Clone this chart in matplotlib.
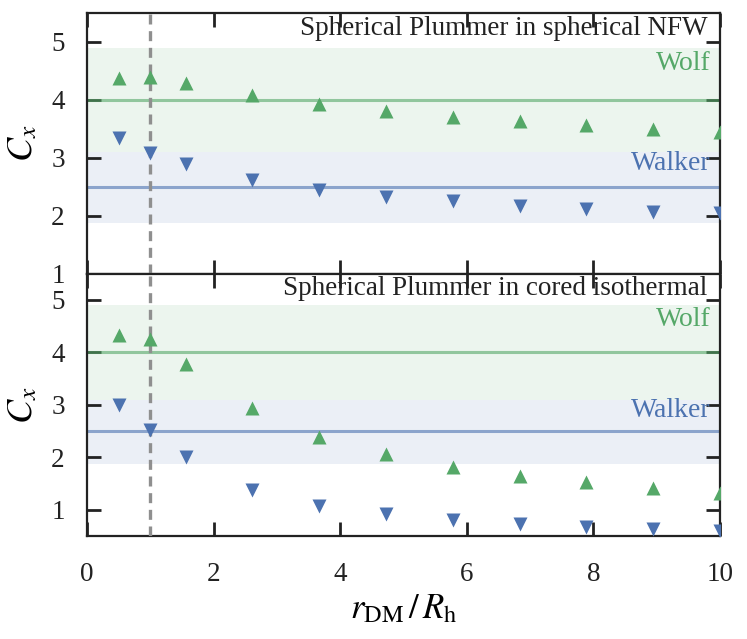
import matplotlib
matplotlib.use('Agg')
import matplotlib.pyplot as plt

plt.rcParams['font.family'] = ['Liberation Serif', 'DejaVu Serif']
plt.rcParams['mathtext.fontset'] = 'stix'

# data
r_ratio = [0.5, 1.0, 1.556, 2.611, 3.667, 4.722, 5.778, 6.833, 7.889, 8.944, 10.0]
nfw_wolf = [4.38, 4.39, 4.30, 4.09, 3.93, 3.81, 3.71, 3.63, 3.56, 3.50, 3.44]
nfw_walker = [3.35, 3.09, 2.89, 2.62, 2.45, 2.33, 2.25, 2.17, 2.12, 2.07, 2.04]
iso_wolf = [4.33, 4.25, 3.78, 2.94, 2.39, 2.06, 1.82, 1.65, 1.52, 1.42, 1.32]
iso_walker = [3.00, 2.52, 2.00, 1.38, 1.08, 0.91, 0.80, 0.73, 0.68, 0.63, 0.60]

wolf_c, wolf_lo, wolf_hi = 4.0, 3.1, 4.9
walker_c, walker_lo, walker_hi = 2.5, 1.87, 3.1

titles = ['Spherical Plummer in spherical NFW', 'Spherical Plummer in cored isothermal']
ylims = [(1, 5.5), (0.5, 5.5)]
yticks = [[1, 2, 3, 4, 5], [1, 2, 3, 4, 5]]

GREEN = '#55a868'
BLUE = '#4c72b0'

fig = plt.figure(figsize=(7.47, 6.39), dpi=100)
gs = fig.add_gridspec(2, 1, left=0.1165, right=0.964, top=0.9797, bottom=0.1612,
                      hspace=0, height_ratios=[4.5 * 58, 5 * 52.5])
axes = [fig.add_subplot(gs[0]), fig.add_subplot(gs[1])]

panels = [(nfw_wolf, nfw_walker), (iso_wolf, iso_walker)]
for i, (ax, (wolf, walker)) in enumerate(zip(axes, panels)):
    ax.axhspan(wolf_lo, wolf_hi, color=GREEN, alpha=0.11, lw=0)
    ax.axhspan(walker_lo, walker_hi, color=BLUE, alpha=0.11, lw=0)
    ax.axhline(wolf_c, color=GREEN, alpha=0.6, lw=2.2)
    ax.axhline(walker_c, color=BLUE, alpha=0.6, lw=2.2)
    ax.axvline(1.0, color='#8f8f8f', ls=(0, (3, 2)), lw=2.4, zorder=4)
    ax.plot(r_ratio, wolf, '^', color=GREEN, ms=10, mec='none', zorder=5)
    ax.plot(r_ratio, walker, 'v', color=BLUE, ms=10, mec='none', zorder=5)

    ax.set_xlim(0, 10)
    ax.set_ylim(*ylims[i])
    ax.set_yticks(yticks[i])
    ax.set_xticks([0, 2, 4, 6, 8, 10])
    ax.tick_params(direction='in', length=10, width=2, top=True, right=True,
                   labelsize=19.5, color='#222222', labelcolor='#222222', pad=16)
    ax.tick_params(axis='x', pad=19)
    for s in ax.spines.values():
        s.set_linewidth(1.6)
        s.set_color('#222222')
    ax.set_ylabel(r'$C_x$', fontsize=26, labelpad=8)

    ax.text(0.98, 0.99, titles[i], transform=ax.transAxes, ha='right', va='top',
            fontsize=19.5, color='#222222')
    ax.text(9.85, wolf_hi - 0.28, 'Wolf', ha='right', va='center', fontsize=20, color=GREEN)
    ax.text(9.85, walker_hi - 0.2, 'Walker', ha='right', va='center', fontsize=20, color=BLUE)

axes[0].tick_params(labelbottom=False)
axes[1].set_xlabel(r'$r_\mathrm{DM}\,/\,R_\mathrm{h}$', fontsize=25, labelpad=4)

fig.savefig('out.png', dpi=100, facecolor='white')
